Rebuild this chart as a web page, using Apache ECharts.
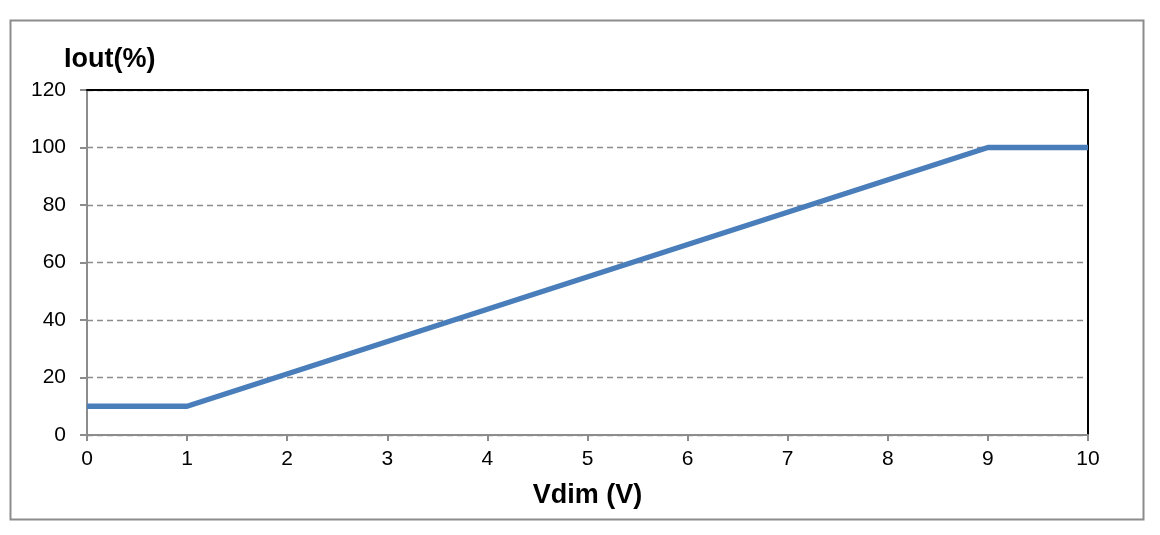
<!DOCTYPE html>
<html><head><meta charset="utf-8">
<script src="https://cdn.jsdelivr.net/npm/echarts@6/dist/echarts.min.js"></script>
<style>html,body{margin:0;padding:0;background:#fff}#c{width:1160px;height:535px}</style>
</head><body><div id="c"></div>
<script>
const vdim = [0, 1, 9, 10];
const iout = [10, 10, 100, 100];
const xTicks = [0,1,2,3,4,5,6,7,8,9,10];
const yTicks = [0,20,40,60,80,100,120];

const chart = echarts.init(document.getElementById('c'));
const F = 'Liberation Sans, Arial, sans-serif';
chart.setOption({
  animation: false,
  textStyle: {fontFamily: F},
  title: {text: 'Iout(%)', left: 59, top: 41, textStyle: {fontSize: 27, fontWeight: 'bold', color: '#000', fontFamily: F}},
  graphic: [{type: 'rect', shape: {x: 10.5, y: 20.5, width: 1133, height: 499}, style: {fill: 'none', stroke: '#8c8c8c', lineWidth: 2}, z: -1}],
  grid: {left: 87, right: 72, top: 90, bottom: 100},
  xAxis: [{type: 'value', min: xTicks[0], max: xTicks[xTicks.length-1], interval: 1,
    name: 'Vdim (V)', nameLocation: 'middle', nameGap: 47,
    nameTextStyle: {fontSize: 27, fontWeight: 'bold', color: '#000', fontFamily: F},
    axisLine: {lineStyle: {color: '#8c8c8c', width: 2}},
    axisTick: {show: true, length: 6, lineStyle: {color: '#8c8c8c', width: 2}},
    axisLabel: {fontSize: 21, color: '#000', margin: 14},
    splitLine: {show: false}, z: 3},
   {type: 'value', position: 'top', min: 0, max: 10, interval: 1,
    axisLine: {show: true, onZero: false, lineStyle: {color: '#000', width: 2}},
    axisTick: {show: false}, axisLabel: {show: false}, splitLine: {show: false}, z: 3}],
  yAxis: [{type: 'value', min: yTicks[0], max: yTicks[yTicks.length-1], interval: 20,
    axisLine: {show: true, lineStyle: {color: '#8c8c8c', width: 2}},
    axisTick: {show: true, length: 7, lineStyle: {color: '#8c8c8c', width: 2}},
    axisLabel: {fontSize: 21, color: '#000', margin: 21},
    splitLine: {show: true, lineStyle: {color: '#8c8c8c', type: [6, 4], width: 1.3}}, z: 1},
   {type: 'value', position: 'right', min: 0, max: 120, interval: 20,
    axisLine: {show: true, onZero: false, lineStyle: {color: '#000', width: 2}},
    axisTick: {show: false}, axisLabel: {show: false}, splitLine: {show: false}, z: 3}],
  series: [{type: 'line', data: vdim.map((v, i) => [v, iout[i]]), symbol: 'none',
    lineStyle: {color: '#4a7ebb', width: 5.5}, z: 5}]
});
</script></body></html>
